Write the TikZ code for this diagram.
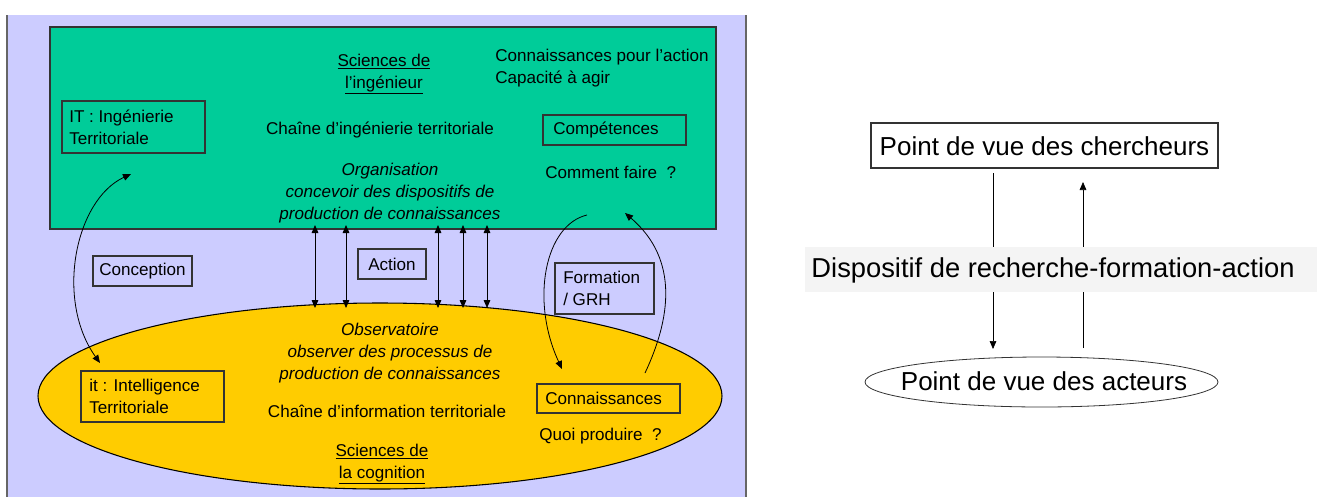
\documentclass[tikz,border=0pt]{standalone}
\usepackage{fontspec}
\setmainfont{Liberation Sans}
\usetikzlibrary{shapes.geometric,arrows.meta}
\definecolor{lav}{HTML}{CCCCFF}
\definecolor{grn}{HTML}{00CC99}
\definecolor{yel}{HTML}{FFCC00}
\definecolor{band}{HTML}{F4F4F4}
\tikzset{
  txt/.style={inner sep=0pt, font=\fontsize{12.8}{16.5}\selectfont},
  big/.style={inner sep=0pt, font=\fontsize{19.5}{22}\selectfont},
  lbox/.style={draw=black!80, line width=0.8pt, inner sep=0pt},
  arr/.style={-{Triangle[length=6pt,width=5pt]}, line width=0.6pt},
  darr/.style={{Triangle[length=6pt,width=5pt]}-{Triangle[length=6pt,width=5pt]}, line width=0.6pt},
}
\begin{document}
\begin{tikzpicture}[x=0.75pt,y=-0.75pt]
\useasboundingbox (0,0) rectangle (1317,497);
% background panel
\fill[lav] (7,15) rectangle (746,497);
\draw[black!60, line width=1pt] (7,15) -- (7,497);
\draw[black!60, line width=1pt] (746,15) -- (746,497);
% green rectangle
\node[draw=black!80, line width=0.8pt, fill=grn, minimum width=666*0.75pt, minimum height=202*0.75pt, inner sep=0pt] (top) at (383,128) {};
% yellow ellipse
\node[draw=black, line width=0.8pt, fill=yel, ellipse, minimum width=684*0.75pt, minimum height=186*0.75pt, inner sep=0pt] (bot) at (380,396) {};

% texts in the green rectangle
\node[txt, align=center] (sci) at (384,74) {\underline{Sciences de}\\\underline{l’ingénieur}};
\node[txt, align=left, anchor=west] (cpa) at (495,68) {Connaissances pour l’action\\Capacité à agir};
\node[lbox, minimum width=143*0.75pt, minimum height=52*0.75pt] (IT) at (133.5,127) {};
\node[txt, align=left, anchor=west] (ITt) at (69,127) {IT : Ingénierie\\Territoriale};
\node[txt] (cit) at (380,130) {Chaîne d’ingénierie territoriale};
\node[lbox, minimum width=143*0.75pt, minimum height=30*0.75pt] (comp) at (614.5,130) {};
\node[txt, anchor=west] (compt) at (553,130) {Compétences};
\node[txt, anchor=west] (cf) at (545,172) {Comment faire\ \ ?};
\node[txt, align=center, font=\fontsize{12.8}{16.5}\selectfont\itshape] (org) at (390,193) {Organisation\\concevoir des dispositifs de\\production de connaissances};

% middle boxes
\node[lbox, minimum width=99*0.75pt, minimum height=30*0.75pt] (conc) at (142.5,271) {};
\node[txt] (conct) at (142.5,271) {Conception};
\node[lbox, minimum width=68*0.75pt, minimum height=30*0.75pt] (act) at (392,264) {};
\node[txt] (actt) at (392,264) {Action};
\node[lbox, minimum width=99*0.75pt, minimum height=51*0.75pt] (form) at (604.5,288.5) {};
\node[txt, align=left, anchor=west] (formt) at (563,288.5) {Formation\\/ GRH};

% texts in the ellipse
\node[txt, align=center, font=\fontsize{12.8}{16.5}\selectfont\itshape] (obs) at (390,353) {Observatoire\\observer des processus de\\production de connaissances};
\node[lbox, minimum width=143*0.75pt, minimum height=51*0.75pt] (it) at (152.5,396.5) {};
\node[txt, align=left, anchor=west] (itt) at (89,396.5) {it : Intelligence\\Territoriale};
\node[txt] (cin) at (387,411) {Chaîne d’information territoriale};
\node[lbox, minimum width=143*0.75pt, minimum height=29*0.75pt] (conn) at (608.5,398.5) {};
\node[txt, anchor=west] (connt) at (545,398.5) {Connaissances};
\node[txt, anchor=west] (qp) at (539,436) {Quoi produire\ \ ?};
\node[txt, align=center] (scc) at (382,464) {\underline{Sciences de}\\\underline{la cognition}};

% vertical double arrows
\foreach \x/\n in {315/a,346/b,438/c,463/d,487/e}{
  \coordinate (t\n) at (\x,225);
  \coordinate (b\n) at (\x,308);
  \draw[darr] (b\n) -- (t\n);
}
% curved arrows
\coordinate (c1a) at (100,363);
\coordinate (c1b) at (131,174);
\draw[darr] (c1a) .. controls (55,300) and (75,200) .. (c1b);
\coordinate (f1a) at (587,215);
\coordinate (f1b) at (562,369);
\draw[arr] (f1a) .. controls (545,225) and (530,300) .. (f1b);
\coordinate (f2a) at (645,373);
\coordinate (f2b) at (625,213);
\draw[arr] (f2a) .. controls (670,320) and (680,260) .. (f2b);

% right diagram
\node[draw=black!80, line width=0.8pt, minimum width=347*0.75pt, minimum height=45*0.75pt, inner sep=0pt] (ch) at (1044.5,145.5) {};
\node[big] (cht) at (1044.5,146) {Point de vue des chercheurs};
\node[draw=black!80, line width=0.6pt, ellipse, minimum width=353*0.75pt, minimum height=50*0.75pt, inner sep=0pt] (ac) at (1041.5,382) {};
\node[big] (act2) at (1044,381) {Point de vue des acteurs};
\coordinate (l1) at (993,173);
\coordinate (l2) at (993,349);
\coordinate (r1) at (1083,348);
\coordinate (r2) at (1083,182);
\draw[arr, line width=0.5pt] (l1) -- (l2);
\draw[arr, line width=0.5pt] (r1) -- (r2);
\node[fill=band, minimum width=512*0.75pt, minimum height=45*0.75pt, inner sep=0pt] (bd) at (1061,269.5) {};
\node[big, font=\fontsize{20.5}{22}\selectfont] (bdt) at (1053,270) {Dispositif de recherche-formation-action};
\end{tikzpicture}
\end{document}
